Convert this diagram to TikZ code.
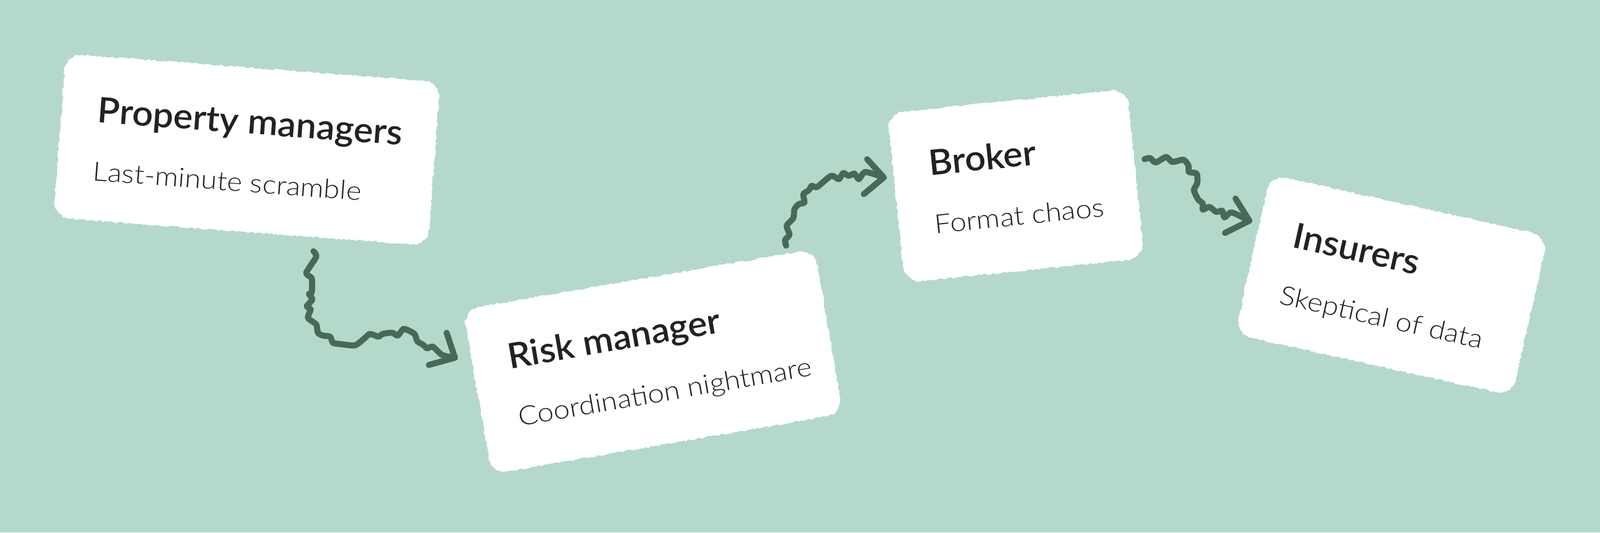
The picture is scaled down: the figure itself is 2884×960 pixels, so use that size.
\documentclass[tikz,border=0pt]{standalone}
\usepackage{fontspec}
\setmainfont{Lato}
\newfontfamily\titlefont{Lato Semibold}[FakeStretch=1.04]
\newfontfamily\subfont{Lato Light}[FakeStretch=1.11]
\usetikzlibrary{decorations.pathmorphing}
\definecolor{bg}{HTML}{B4D9CB}
\definecolor{arrowc}{HTML}{47695A}
\definecolor{ink}{HTML}{222222}
\tikzset{
  card/.style={fill=white, decorate, decoration={random steps, segment length=1.2pt, amplitude=0.45pt}},
  ttl/.style={anchor=base west, inner sep=0pt, text=ink, font=\titlefont\fontsize{18}{20}\selectfont},
  sub/.style={anchor=base west, inner sep=0pt, text=ink, font=\subfont\fontsize{13.5}{15}\selectfont},
  squig/.style={draw=arrowc, line width=3.1pt, line cap=round, line join=round},
}
\newcommand\tornbox[2]{%
  \fill[card] ({-#1/2+30},{#2/2}) -- ({#1/2-30},{#2/2}) arc[start angle=90, end angle=0, radius=30]
    -- ({#1/2},{-#2/2+30}) arc[start angle=0, end angle=-90, radius=30]
    -- ({-#1/2+30},{-#2/2}) arc[start angle=270, end angle=180, radius=30]
    -- ({-#1/2},{#2/2-30}) arc[start angle=180, end angle=90, radius=30] -- cycle;}
\begin{document}
\begin{tikzpicture}[x=0.1mm, y=0.1mm]
\fill[bg] (0,0) rectangle (2884,960);
\useasboundingbox (0,0) rectangle (2884,960);
% Box 1
\begin{scope}[shift={(445,690)}, rotate=-4.3, transform shape]
  \tornbox{677}{296}
  \node[ttl] (pmT) at (-274,29) {Property managers};
  \node[sub] (pmS) at (-274,-76) {Last-minute scramble};
\end{scope}
% Box 2
\begin{scope}[shift={(1177,308)}, rotate=9.8, transform shape]
  \tornbox{643}{301}
  \node[ttl] (rmT) at (-257,31) {Risk manager};
  \node[sub] (rmS) at (-257,-74) {Coordination nightmare};
\end{scope}
% Box 3
\begin{scope}[shift={(1831,625)}, rotate=5.8, transform shape]
  \tornbox{434}{307}
  \node[ttl] (brT) at (-153,34) {Broker};
  \node[sub] (brS) at (-153,-71) {Format chaos};
\end{scope}
% Box 4
\begin{scope}[shift={(2508,446)}, rotate=-12.5, transform shape]
  \tornbox{512}{295}
  \node[ttl] (inT) at (-192,28) {Insurers};
  \node[sub] (inS) at (-192,-77) {Skeptical of data};
\end{scope}
% arrow endpoints
\coordinate (a1s) at (565,507); \coordinate (a1e) at (820,315);
\coordinate (a1l) at (805,360); \coordinate (a1r) at (773,302);
\coordinate (a2s) at (1417,517); \coordinate (a2e) at (1593,640);
\coordinate (a2l) at (1563,673); \coordinate (a2r) at (1557,610);
\coordinate (a3s) at (2063,673); \coordinate (a3e) at (2252,562);
\coordinate (a3l) at (2227,602); \coordinate (a3r) at (2208,540);
% Arrow 1
\draw[squig] plot[smooth, tension=0.4] coordinates {(a1s) (570,497) (552,468) (562,458) (562,433) (557,430) (563,420) (553,408) (560,402) (555,387) (570,375) (573,360) (582,355) (595,353) (600,342) (610,340) (637,337) (645,340) (657,350) (667,358) (682,353) (690,358) (707,360) (717,355) (728,367) (747,358) (752,345) (763,338) (770,332) (780,335) (797,320) (a1e)};
\draw[squig] (a1l) -- (a1e) -- (a1r);
% Arrow 2
\draw[squig] plot[smooth, tension=0.4] coordinates {(a2s) (1415,527) (1423,537) (1418,553) (1430,567) (1432,583) (1440,592) (1450,595) (1448,610) (1458,617) (1463,625) (1473,623) (1498,643) (1512,637) (1520,648) (1530,643) (1540,647) (1548,637) (1560,650) (a2e)};
\draw[squig] (a2l) -- (a2e) -- (a2r);
% Arrow 3
\draw[squig] plot[smooth, tension=0.4] coordinates {(a3s) (2073,675) (2083,667) (2102,677) (2113,668) (2133,672) (2142,662) (2143,650) (2157,647) (2158,630) (2152,617) (2160,600) (2168,593) (2168,582) (2180,587) (2192,578) (2203,580) (2207,568) (2220,577) (a3e)};
\draw[squig] (a3l) -- (a3e) -- (a3r);
\end{tikzpicture}
\end{document}
